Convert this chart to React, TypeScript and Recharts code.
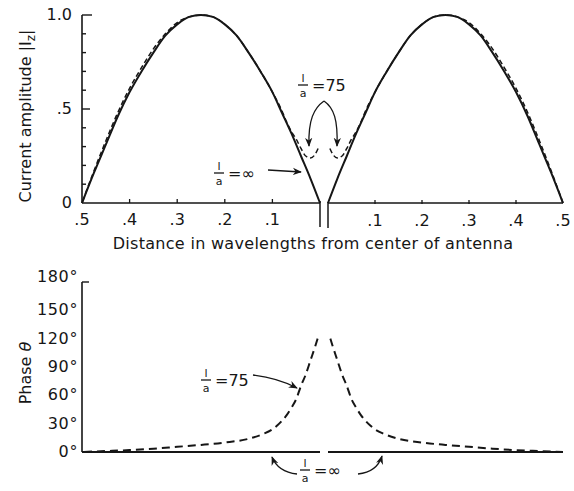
import { LineChart, Line, XAxis, YAxis, ReferenceLine } from "recharts";

const INK = "#161616";
const FONT = "'DejaVu Sans', sans-serif";

// distance from the center of the antenna, in wavelengths
const ampDistance = [0, 0.02, 0.04, 0.06, 0.08, 0.1, 0.125, 0.15, 0.175, 0.2, 0.225, 0.25, 0.275, 0.3, 0.325, 0.35, 0.375, 0.4, 0.425, 0.45, 0.475, 0.5];
// |Iz| for l/a = infinity (solid)
const ampInfinite = [0, 0.13, 0.25, 0.37, 0.48, 0.59, 0.7, 0.8, 0.89, 0.95, 0.99, 1.0, 0.99, 0.95, 0.89, 0.8, 0.7, 0.59, 0.46, 0.31, 0.16, 0];

const ampDistance75 = [0.004, 0.01, 0.02, 0.03, 0.04, 0.05, 0.06, 0.07, 0.08, 0.1, 0.125, 0.15, 0.175, 0.2, 0.225, 0.25, 0.275, 0.3, 0.325, 0.35, 0.375, 0.4, 0.425, 0.45, 0.475, 0.5];
// |Iz| for l/a = 75 (dashed)
const amp75 = [0.29, 0.26, 0.24, 0.25, 0.29, 0.34, 0.38, 0.43, 0.49, 0.59, 0.7, 0.8, 0.89, 0.95, 0.99, 1.0, 0.99, 0.96, 0.9, 0.82, 0.72, 0.61, 0.48, 0.33, 0.17, 0];

const phaseDistance75 = [0.005, 0.01, 0.02, 0.03, 0.04, 0.05, 0.06, 0.07, 0.08, 0.09, 0.1, 0.12, 0.15, 0.2, 0.25, 0.3, 0.35, 0.4, 0.45, 0.5];
const phase75 = [120, 112, 97, 82, 70, 56, 47, 39, 33, 28, 24, 19, 14, 10, 7.5, 5.5, 3.5, 2, 1, 0];

const phaseDistanceInf = [0, 0.5];
const phaseInf = [0, 0];

const halfTicks = [0, 0.1, 0.2, 0.3, 0.4, 0.5];
const ampTicks = [0, 0.1, 0.2, 0.3, 0.4, 0.5, 0.6, 0.7, 0.8, 0.9, 1.0];
const ampLabels: Record<string, string> = { "0": "0", "0.5": ".5", "1": "1.0" };
const phaseTicks = [0, 30, 60, 90, 120, 150, 180];

const rows = (xs: number[], ys: number[]) => xs.map((d, i) => ({ d, v: ys[i] }));

const ampInfRows = rows(ampDistance, ampInfinite);
const amp75Rows = rows(ampDistance75, amp75);
const phase75Rows = rows(phaseDistance75, phase75);
const phaseInfRows = rows(phaseDistanceInf, phaseInf);

const W = 574;
const GAP_L = 243; // keeps the two halves apart at the center
const GAP_R = 246;

const XTick = ({ x, y, payload }: any) => {
  const v = payload.value;
  return (
    <g>
      {v === 0 && <line x1={x} y1={y - 2} x2={x} y2={y + 24} stroke={INK} strokeWidth={1.5} />}
      {v > 0 && v < 0.5 && <line x1={x} y1={y} x2={x} y2={y - 4} stroke={INK} strokeWidth={1.3} />}
      {v > 0 && (
        <text x={x} y={y + 22} textAnchor="middle" fontSize={16} fill={INK} fontFamily={FONT}>
          {"." + Math.round(v * 10)}
        </text>
      )}
    </g>
  );
};

const AmpTick = ({ x, y, payload }: any) => {
  const v = payload.value;
  const label = ampLabels[String(v)];
  const len = v === 1 ? 10 : v === 0 ? 0 : v === 0.5 ? 8 : 4;
  return (
    <g>
      {len > 0 && <line x1={x} y1={y} x2={x + len} y2={y} stroke={INK} strokeWidth={1.4} />}
      {label && (
        <text x={x - 10} y={y + 5} textAnchor="end" fontSize={16} fill={INK} fontFamily={FONT}>
          {label}
        </text>
      )}
    </g>
  );
};

const PhaseTick = ({ x, y, payload }: any) => {
  const v = payload.value;
  return (
    <g>
      {v === 180 && <line x1={x} y1={y} x2={x + 7} y2={y} stroke={INK} strokeWidth={1.4} />}
      <text x={x - 4} y={y + (v === 180 ? 0 : 5)} textAnchor="end" fontSize={16} letterSpacing={0.6}
        fill={INK} fontFamily={FONT}>
        {v + "°"}
      </text>
    </g>
  );
};

const Frac = ({ x, y, rhs }: { x: number; y: number; rhs: string }) => (
  <g fontFamily={FONT} fill={INK}>
    <text x={x} y={y - 3} textAnchor="middle" fontSize={11}>l</text>
    <line x1={x - 5} y1={y} x2={x + 5} y2={y} stroke={INK} strokeWidth={1.3} />
    <text x={x} y={y + 12} textAnchor="middle" fontSize={11}>a</text>
    <text x={x + 9} y={y + 6} fontSize={16}>{rhs}</text>
  </g>
);

const Overlay = () => (
  <svg width={W} height={491} style={{ position: "absolute", left: 0, top: 0, pointerEvents: "none" }}>
    <defs>
      <marker id="head" viewBox="0 0 10 10" refX="9" refY="5" markerWidth="7" markerHeight="7" orient="auto">
        <path d="M0,1 L10,5 L0,9 L3,5 Z" fill={INK} />
      </marker>
    </defs>
    <g fontFamily={FONT} fill={INK}>
      <text transform="translate(31,116) rotate(-90)" textAnchor="middle" fontSize={16}>
        Current amplitude |I<tspan fontSize={12} dy={4}>z</tspan><tspan dy={-4}>|</tspan>
      </text>
      <text x={313} y={249} textAnchor="middle" fontSize={16} letterSpacing={0.3}>
        Distance in wavelengths from center of antenna
      </text>
      <text transform="translate(31,373) rotate(-90)" textAnchor="middle" fontSize={16}>
        Phase <tspan fontStyle="italic">θ</tspan>
      </text>
    </g>
    <g stroke={INK} strokeWidth={1.3} fill="none">
      <path d="M268 170 L301 172" markerEnd="url(#head)" />
      <path d="M324 101 C314 108, 308 120, 309 146" markerEnd="url(#head)" />
      <path d="M324 101 C334 108, 338 120, 337 146" markerEnd="url(#head)" />
      <path d="M253 375 Q278 378 297 388" markerEnd="url(#head)" />
      <path d="M297 474 Q278 472 272 457" markerEnd="url(#head)" />
      <path d="M358 474 Q377 472 382 456" markerEnd="url(#head)" />
    </g>
    <Frac x={219} y={173} rhs="=∞" />
    <Frac x={303} y={85} rhs="=75" />
    <Frac x={206} y={380} rhs="=75" />
    <Frac x={305} y={470} rhs="=∞" />
  </svg>
);

export default function App() {
  return (
    <div style={{ position: "absolute", left: 0, top: 0, width: W, height: 491, background: "#fff" }}>
      <div style={{ position: "absolute", left: 0, top: 0 }}>
        <LineChart width={W} height={260} margin={{ top: 15, right: 11, bottom: 55, left: 22 }}>
          <XAxis xAxisId="L" dataKey="d" type="number" domain={[0, 0.5]} ticks={halfTicks} reversed
            padding={{ left: 0, right: GAP_L }} height={1} axisLine={false} tickLine={false}
            tickSize={0} tickMargin={0} tick={<XTick />} interval={0} />
          <XAxis xAxisId="R" dataKey="d" type="number" domain={[0, 0.5]} ticks={halfTicks}
            padding={{ left: GAP_R, right: 0 }} height={1} axisLine={false} tickLine={false}
            tickSize={0} tickMargin={0} tick={<XTick />} interval={0} />
          <YAxis type="number" domain={[0, 1]} ticks={ampTicks} width={60} interval={0}
            axisLine={{ stroke: INK, strokeWidth: 1.6 }} tickLine={false} tickSize={0} tickMargin={0}
            tick={<AmpTick />} />
          <ReferenceLine xAxisId="L" segment={[{ x: 0.5, y: 0 }, { x: 0, y: 0 }]} stroke={INK} strokeWidth={1.6} />
          <ReferenceLine xAxisId="R" segment={[{ x: 0, y: 0 }, { x: 0.5, y: 0 }]} stroke={INK} strokeWidth={1.6} />
          <Line xAxisId="L" data={amp75Rows} dataKey="v" type="monotone" stroke={INK} strokeWidth={1.5}
            strokeDasharray="5 3" dot={false} isAnimationActive={false} />
          <Line xAxisId="R" data={amp75Rows} dataKey="v" type="monotone" stroke={INK} strokeWidth={1.5}
            strokeDasharray="5 3" dot={false} isAnimationActive={false} />
          <Line xAxisId="L" data={ampInfRows} dataKey="v" type="monotone" stroke={INK} strokeWidth={2}
            dot={false} isAnimationActive={false} />
          <Line xAxisId="R" data={ampInfRows} dataKey="v" type="monotone" stroke={INK} strokeWidth={2}
            dot={false} isAnimationActive={false} />
        </LineChart>
      </div>
      <div style={{ position: "absolute", left: 0, top: 262 }}>
        <LineChart width={W} height={229} margin={{ top: 20, right: 11, bottom: 39, left: 22 }}>
          <XAxis xAxisId="L" dataKey="d" type="number" domain={[0, 0.5]} reversed hide
            padding={{ left: 0, right: GAP_L }} />
          <XAxis xAxisId="R" dataKey="d" type="number" domain={[0, 0.5]} hide
            padding={{ left: GAP_R, right: 0 }} />
          <YAxis type="number" domain={[0, 180]} ticks={phaseTicks} width={60} interval={0}
            axisLine={{ stroke: INK, strokeWidth: 1.6 }} tickLine={false} tickSize={0} tickMargin={0}
            tick={<PhaseTick />} />
          <Line xAxisId="L" data={phaseInfRows} dataKey="v" type="linear" stroke={INK} strokeWidth={1.8}
            dot={false} isAnimationActive={false} />
          <Line xAxisId="R" data={phaseInfRows} dataKey="v" type="linear" stroke={INK} strokeWidth={1.8}
            dot={false} isAnimationActive={false} />
          <Line xAxisId="L" data={phase75Rows} dataKey="v" type="monotone" stroke={INK} strokeWidth={2}
            strokeDasharray="8 5" dot={false} isAnimationActive={false} />
          <Line xAxisId="R" data={phase75Rows} dataKey="v" type="monotone" stroke={INK} strokeWidth={2}
            strokeDasharray="8 5" dot={false} isAnimationActive={false} />
        </LineChart>
      </div>
      <Overlay />
    </div>
  );
}
